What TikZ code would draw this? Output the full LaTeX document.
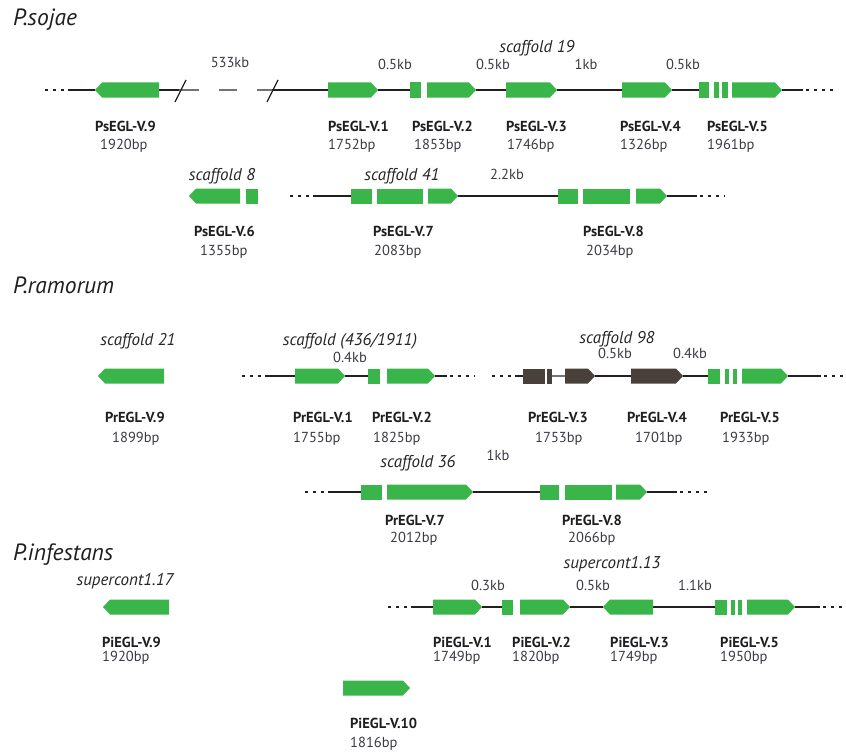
\documentclass[tikz,border=0pt]{standalone}
\usepackage{fontspec}
\setmainfont{PT Sans}
\definecolor{genegreen}{HTML}{3AB54A}
\definecolor{genedark}{HTML}{4A403B}
\definecolor{bbline}{HTML}{231F20}
\definecolor{labelgray}{HTML}{3C3A44}

% exon shapes: [colour]{x1}{x2}{y}
\newcommand\exonbox[4][genegreen]{\fill[#1] (#2,#4-7.5) rectangle (#3,#4+7.5);}
\newcommand\exonright[4][genegreen]{\fill[#1] (#2,#4-7.5) -- (#3-7,#4-7.5) -- (#3,#4) -- (#3-7,#4+7.5) -- (#2,#4+7.5) -- cycle;}
\newcommand\exonleft[4][genegreen]{\fill[#1] (#2,#4) -- (#2+7,#4-7.5) -- (#3,#4-7.5) -- (#3,#4+7.5) -- (#2+7,#4+7.5) -- cycle;}
% gene ends as named coordinates: {name}{x1}{x2}{y}
\newcommand\genespan[4]{\coordinate (#1-w) at (#2,#4); \coordinate (#1-e) at (#3,#4);}

\tikzset{
  backbone/.style={draw=bbline, line width=2.6pt},
  dotted ends/.style={draw=bbline, line width=2.8pt, dash pattern=on 3pt off 5pt},
  thinline/.style={draw=black!55, line width=1.2pt},
  slashline/.style={draw=bbline, line width=1.2pt},
  species/.style={anchor=base west, inner sep=0pt, font=\fontsize{23.5}{23.5}\selectfont\itshape, text=black!88},
  scaf/.style={anchor=base, inner sep=0pt, font=\fontsize{17}{17}\selectfont\itshape, text=black!85},
  kb/.style={anchor=base, inner sep=0pt, font=\fontsize{14.5}{14.5}\selectfont, text=labelgray},
  gname/.style={anchor=base west, inner sep=0pt, font=\fontsize{14.5}{14.5}\selectfont\bfseries, text=black!88},
  bp/.style={anchor=base west, inner sep=0pt, font=\fontsize{14.5}{14.5}\selectfont, text=labelgray},
}

\begin{document}
\begin{tikzpicture}[x=1pt, y=-1pt]
\useasboundingbox[fill=white] (0,0) rectangle (846,752);

%% ---------------- P. sojae ----------------
\node[species] (sp1) at (13,26) {P.sojae};

% scaffold 19
\genespan{psv9}{95}{159}{90}
\genespan{psv1}{328}{378}{90}
\genespan{psv2}{410}{476}{90}
\genespan{psv3}{506}{557}{90}
\genespan{psv4}{622}{672}{90}
\genespan{psv5}{699}{782}{90}
\coordinate (s19-l) at (45,90);
\coordinate (s19-lm) at (66,90);
\coordinate (s19-lb) at (68,90);
\coordinate (brk1) at (179,90);
\coordinate (brk2) at (199,90);
\coordinate (gap1) at (219,90);
\coordinate (gap2) at (237,90);
\coordinate (brk3) at (257,90);
\coordinate (brk4) at (272,90);
\coordinate (s19-rb) at (803,90);
\coordinate (s19-rm) at (806,90);
\coordinate (s19-r) at (834,90);

\draw[dotted ends] (s19-l) -- (s19-lm);
\draw[backbone] (s19-lb) -- (psv9-w);
\draw[backbone] (psv9-e) -- (brk1);
\draw[thinline] (brk1) -- (brk2);
\draw[thinline] (gap1) -- (gap2);
\draw[thinline] (brk3) -- (brk4);
\draw[backbone] (brk4) -- (psv1-w);
\draw[backbone] (psv1-e) -- (psv2-w);
\draw[backbone] (psv2-e) -- (psv3-w);
\draw[backbone] (psv3-e) -- (psv4-w);
\draw[backbone] (psv4-e) -- (psv5-w);
\draw[backbone] (psv5-e) -- (s19-rb);
\draw[dotted ends] (s19-rm) -- (s19-r);
\draw[slashline] (175,102) -- (186,80);
\draw[slashline] (267,102) -- (278,80);

\exonleft{95}{159}{90}
\exonright{328}{378}{90}
\exonbox{410}{421}{90}
\exonright{427}{476}{90}
\exonright{506}{557}{90}
\exonright{622}{672}{90}
\exonbox{699}{709}{90}
\exonbox{714}{719}{90}
\exonbox{722}{728}{90}
\exonright{732}{782}{90}

\node[kb] (k533) at (230,67) {533kb};
\node[kb] (k1a) at (395,70) {0.5kb};
\node[scaf] (sc19) at (537,53) {scaffold 19};
\node[kb] (k1b) at (493,70) {0.5kb};
\node[kb] (k1c) at (586,70) {1kb};
\node[kb] (k1d) at (683,70) {0.5kb};

\node[gname] (n-psv9) at (95,131) {PsEGL-V.9};
\node[gname] (n-psv1) at (328,131) {PsEGL-V.1};
\node[gname] (n-psv2) at (412,131) {PsEGL-V.2};
\node[gname] (n-psv3) at (506,131) {PsEGL-V.3};
\node[gname] (n-psv4) at (620,131) {PsEGL-V.4};
\node[gname] (n-psv5) at (707,131) {PsEGL-V.5};
\node[bp] (b-psv9) at (100,149) {1920bp};
\node[bp] (b-psv1) at (328,149) {1752bp};
\node[bp] (b-psv2) at (414,149) {1853bp};
\node[bp] (b-psv3) at (507,149) {1746bp};
\node[bp] (b-psv4) at (620,149) {1326bp};
\node[bp] (b-psv5) at (707,149) {1961bp};

% scaffold 8 and scaffold 41
\genespan{psv6}{189}{258}{196}
\genespan{psv7}{351}{458}{196}
\genespan{psv8}{558}{667}{196}
\coordinate (s41-l) at (290,196);
\coordinate (s41-lm) at (311,196);
\coordinate (s41-lb) at (313,196);
\coordinate (s41-rb) at (697,196);
\coordinate (s41-rm) at (700,196);
\coordinate (s41-r) at (725,196);
\draw[dotted ends] (s41-l) -- (s41-lm);
\draw[backbone] (s41-lb) -- (psv7-w);
\draw[backbone] (psv7-e) -- (psv8-w);
\draw[backbone] (psv8-e) -- (s41-rb);
\draw[dotted ends] (s41-rm) -- (s41-r);

\exonleft{189}{240}{196}
\exonbox{246}{258}{196}
\exonbox{351}{372}{196}
\exonbox{377}{423}{196}
\exonright{428}{458}{196}
\exonbox{558}{578}{196}
\exonbox{583}{630}{196}
\exonright{636}{667}{196}

\node[scaf] (sc8) at (222,180) {scaffold 8};
\node[scaf] (sc41) at (402,180) {scaffold 41};
\node[kb] (k2a) at (507,179) {2.2kb};
\node[gname] (n-psv6) at (194,236) {PsEGL-V.6};
\node[gname] (n-psv7) at (373,236) {PsEGL-V.7};
\node[gname] (n-psv8) at (583,236) {PsEGL-V.8};
\node[bp] (b-psv6) at (200,255) {1355bp};
\node[bp] (b-psv7) at (374,255) {2083bp};
\node[bp] (b-psv8) at (586,255) {2034bp};

%% ---------------- P. ramorum ----------------
\node[species] (sp2) at (13,293) {P.ramorum};

% scaffold 21
\exonleft{98}{164}{376}
\node[scaf] (sc21) at (138,345) {scaffold 21};
\node[gname] (n-prv9) at (105,422) {PrEGL-V.9};
\node[bp] (b-prv9) at (112,442) {1899bp};

% scaffold (436/1911)
\genespan{prv1}{295}{345}{376}
\genespan{prv2}{368}{435}{376}
\coordinate (s436-l) at (242,376);
\coordinate (s436-lm) at (263,376);
\coordinate (s436-lb) at (265,376);
\coordinate (s436-rb) at (447,376);
\coordinate (s436-rm) at (450,376);
\coordinate (s436-r) at (475,376);
\draw[dotted ends] (s436-l) -- (s436-lm);
\draw[backbone] (s436-lb) -- (prv1-w);
\draw[backbone] (prv1-e) -- (prv2-w);
\draw[backbone] (prv2-e) -- (s436-rb);
\draw[dotted ends] (s436-rm) -- (s436-r);
\exonright{295}{345}{376}
\exonbox{368}{380}{376}
\exonright{387}{435}{376}
\node[scaf] (sc436) at (350,345) {scaffold (436/1911)};
\node[kb] (k3a) at (350,362) {0.4kb};
\node[gname] (n-prv1) at (293,422) {PrEGL-V.1};
\node[gname] (n-prv2) at (372,422) {PrEGL-V.2};
\node[bp] (b-prv1) at (293,442) {1755bp};
\node[bp] (b-prv2) at (373,442) {1825bp};

% scaffold 98
\genespan{prv3}{523}{595}{376}
\genespan{prv4}{631}{683}{376}
\genespan{prv5}{708}{788}{376}
\coordinate (s98-l) at (492,376);
\coordinate (s98-lm) at (513,376);
\coordinate (s98-lb) at (515,376);
\coordinate (v3i-a) at (552,376);
\coordinate (v3i-b) at (565,376);
\coordinate (s98-rb) at (821,376);
\coordinate (s98-rm) at (824,376);
\coordinate (s98-r) at (846,376);
\draw[dotted ends] (s98-l) -- (s98-lm);
\draw[backbone] (s98-lb) -- (prv3-w);
\draw[thinline] (v3i-a) -- (v3i-b);
\draw[backbone] (prv3-e) -- (prv4-w);
\draw[backbone] (prv4-e) -- (prv5-w);
\draw[backbone] (prv5-e) -- (s98-rb);
\draw[dotted ends] (s98-rm) -- (s98-r);
\exonbox[genedark]{523}{545}{376}
\exonbox[genedark]{547}{552}{376}
\exonright[genedark]{565}{595}{376}
\exonright[genedark]{631}{683}{376}
\exonbox{708}{720}{376}
\exonbox{725}{729}{376}
\exonbox{733}{737}{376}
\exonright{742}{788}{376}
\node[scaf] (sc98) at (617,343) {scaffold 98};
\node[kb] (k3b) at (615,358) {0.5kb};
\node[kb] (k3c) at (690,358) {0.4kb};
\node[gname] (n-prv3) at (528,422) {PrEGL-V.3};
\node[gname] (n-prv4) at (627,422) {PrEGL-V.4};
\node[gname] (n-prv5) at (720,422) {PrEGL-V.5};
\node[bp] (b-prv3) at (535,442) {1753bp};
\node[bp] (b-prv4) at (635,442) {1701bp};
\node[bp] (b-prv5) at (722,442) {1933bp};

% scaffold 36
\genespan{prv7}{361}{473}{492}
\genespan{prv8}{540}{647}{492}
\coordinate (s36-l) at (305,492);
\coordinate (s36-lm) at (326,492);
\coordinate (s36-lb) at (328,492);
\coordinate (s36-rb) at (677,492);
\coordinate (s36-rm) at (680,492);
\coordinate (s36-r) at (707,492);
\draw[dotted ends] (s36-l) -- (s36-lm);
\draw[backbone] (s36-lb) -- (prv7-w);
\draw[backbone] (prv7-e) -- (prv8-w);
\draw[backbone] (prv8-e) -- (s36-rb);
\draw[dotted ends] (s36-rm) -- (s36-r);
\exonbox{361}{382}{492}
\exonright{387}{473}{492}
\exonbox{540}{559}{492}
\exonbox{565}{612}{492}
\exonright{616}{647}{492}
\node[scaf] (sc36) at (418,467) {scaffold 36};
\node[kb] (k4a) at (498,460) {1kb};
\node[gname] (n-prv7) at (385,525) {PrEGL-V.7};
\node[gname] (n-prv8) at (562,525) {PrEGL-V.8};
\node[bp] (b-prv7) at (390,542) {2012bp};
\node[bp] (b-prv8) at (568,542) {2066bp};

%% ---------------- P. infestans ----------------
\node[species] (sp3) at (13,560) {P.infestans};

% supercont1.17
\exonleft{103}{169}{607}
\node[scaf] (sc117) at (125,585) {supercont1.17};
\node[gname] (n-piv9) at (102,647) {PiEGL-V.9};
\node[bp] (b-piv9) at (102,661) {1920bp};

% supercont1.13
\genespan{piv1}{433}{482}{607}
\genespan{piv2}{502}{570}{607}
\genespan{piv3}{603}{653}{607}
\genespan{piv5}{715}{795}{607}
\coordinate (s113-l) at (388,607);
\coordinate (s113-lm) at (409,607);
\coordinate (s113-lb) at (411,607);
\coordinate (s113-rb) at (820,607);
\coordinate (s113-rm) at (823,607);
\coordinate (s113-r) at (846,607);
\draw[dotted ends] (s113-l) -- (s113-lm);
\draw[backbone] (s113-lb) -- (piv1-w);
\draw[backbone] (piv1-e) -- (piv2-w);
\draw[backbone] (piv2-e) -- (piv3-w);
\draw[backbone] (piv3-e) -- (piv5-w);
\draw[backbone] (piv5-e) -- (s113-rb);
\draw[dotted ends] (s113-rm) -- (s113-r);
\exonright{433}{482}{607}
\exonbox{502}{513}{607}
\exonright{520}{570}{607}
\exonleft{603}{653}{607}
\exonbox{715}{727}{607}
\exonbox{731}{735}{607}
\exonbox{738}{742}{607}
\exonright{747}{795}{607}
\node[scaf] (sc113) at (612,568) {supercont1.13};
\node[kb] (k5a) at (488,590) {0.3kb};
\node[kb] (k5b) at (593,590) {0.5kb};
\node[kb] (k5c) at (695,590) {1.1kb};
\node[gname] (n-piv1) at (433,647) {PiEGL-V.1};
\node[gname] (n-piv2) at (512,647) {PiEGL-V.2};
\node[gname] (n-piv3) at (610,647) {PiEGL-V.3};
\node[gname] (n-piv5) at (720,647) {PiEGL-V.5};
\node[bp] (b-piv1) at (433,661) {1749bp};
\node[bp] (b-piv2) at (512,661) {1820bp};
\node[bp] (b-piv3) at (610,661) {1749bp};
\node[bp] (b-piv5) at (720,661) {1950bp};

% PiEGL-V.10
\exonright{343}{410}{688}
\node[gname] (n-piv10) at (350,728) {PiEGL-V.10};
\node[bp] (b-piv10) at (350,747) {1816bp};
\end{tikzpicture}
\end{document}
